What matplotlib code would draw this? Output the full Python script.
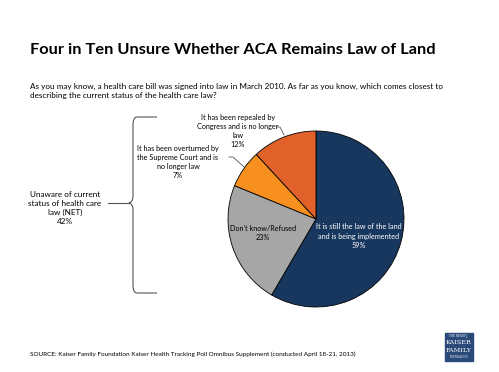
import matplotlib.pyplot as plt
from matplotlib.path import Path
from matplotlib.patches import PathPatch

plt.rcParams["font.family"] = ["Lato", "DejaVu Sans"]

W, H = 499, 372

categories = [
    "It is still the law of the land\nand is being implemented",
    "Don't know/Refused",
    "It has been overturned by\nthe Supreme Court and is\nno longer law",
    "It has been repealed by\nCongress and is no longer\nlaw",
]
values = [59, 23, 7, 12]
colors = ["#17375E", "#A6A6A6", "#F7901E", "#E0622A"]
net_label = "Unaware of current\nstatus of health care\nlaw (NET)"
net_value = 42

title = "Four in Ten Unsure Whether ACA Remains Law of Land"
question = ("As you may know, a health care bill was signed into law in March 2010. As far as you know, which comes closest to\n"
            "describing the current status of the health care law?")
source = "SOURCE: Kaiser Family Foundation Kaiser Health Tracking Poll Omnibus Supplement (conducted April 18-21, 2013)"

fig = plt.figure(figsize=(W / 100, H / 100), dpi=100)
fig.patch.set_facecolor("white")

# pie axes: center (316, 219), radius 88 px
cx, cy, r = 316, 219, 88
pax = fig.add_axes([(cx - r) / W, (H - cy - r) / H, 2 * r / W, 2 * r / H])
wedges, _ = pax.pie(values, colors=colors, startangle=90, counterclock=False,
                    wedgeprops=dict(edgecolor="black", linewidth=0.6))
pax.set_xlim(-1, 1)
pax.set_ylim(-1, 1)
pax.set_aspect("equal")

# overlay in pixel coords for text and brace (drawn on top of the pie)
ov = fig.add_axes([0, 0, 1, 1])
ov.set_xlim(0, W)
ov.set_ylim(H, 0)
ov.axis("off")

ov.text(30, 50, title, fontsize=11.8, fontweight="bold", va="center", ha="left")
ov.text(30, 91, question, fontsize=5.85, va="center", ha="left", linespacing=1.45)
ov.text(30, 354, source, fontsize=4.6, va="center", ha="left")

# inside labels
ov.text(359, 236, f"{categories[0]}\n{values[0]}%", fontsize=5.2, color="white",
        ha="center", va="center", linespacing=1.35)
ov.text(263, 233, f"{categories[1]}\n{values[1]}%", fontsize=5.2, color="black",
        ha="center", va="center", linespacing=1.35)
# outside labels
ov.text(178, 162, f"{categories[2]}\n{values[2]}%", fontsize=5.2,
        ha="center", va="center", linespacing=1.3)
ov.text(238, 131, f"{categories[3]}\n{values[3]}%", fontsize=5.2,
        ha="center", va="center", linespacing=1.3)
ov.plot([229, 233, 244], [157, 157, 167], color="#555555", lw=0.6)
ov.plot([277, 280, 284], [127, 127, 135], color="#555555", lw=0.6)

# NET label and brace
ov.text(65, 208, f"{net_label}\n{net_value}%", fontsize=5.9,
        ha="center", va="center", linespacing=1.35)
ov.plot([108, 129], [203, 203], color="#555555", lw=0.8)
verts = [(157, 117), (137, 117), (133, 117), (133, 125),
         (133, 196), (133, 202), (129, 203),
         (133, 204), (133, 210),
         (133, 285), (133, 293), (137, 293), (157, 293)]
codes = [Path.MOVETO, Path.LINETO, Path.CURVE3, Path.CURVE3,
         Path.LINETO, Path.CURVE3, Path.CURVE3,
         Path.CURVE3, Path.CURVE3,
         Path.LINETO, Path.CURVE3, Path.CURVE3, Path.LINETO]
ov.add_patch(PathPatch(Path(verts, codes), fill=False, edgecolor="#555555", lw=0.8))

# logo
ov.add_patch(plt.Rectangle((445, 333), 28, 28, color="#2A4A7A"))
ov.text(459, 336, "THE HENRY J.", fontsize=1.8, color="white", ha="center", va="center", family="DejaVu Serif")
ov.text(459, 342, "KAISER", fontsize=4.6, color="white", ha="center", va="center", family="DejaVu Serif")
ov.text(459, 350, "FAMILY", fontsize=4.6, color="white", ha="center", va="center", family="DejaVu Serif")
ov.text(459, 357, "FOUNDATION", fontsize=1.8, color="white", ha="center", va="center", family="DejaVu Serif")

fig.savefig("out.png", dpi=100)
